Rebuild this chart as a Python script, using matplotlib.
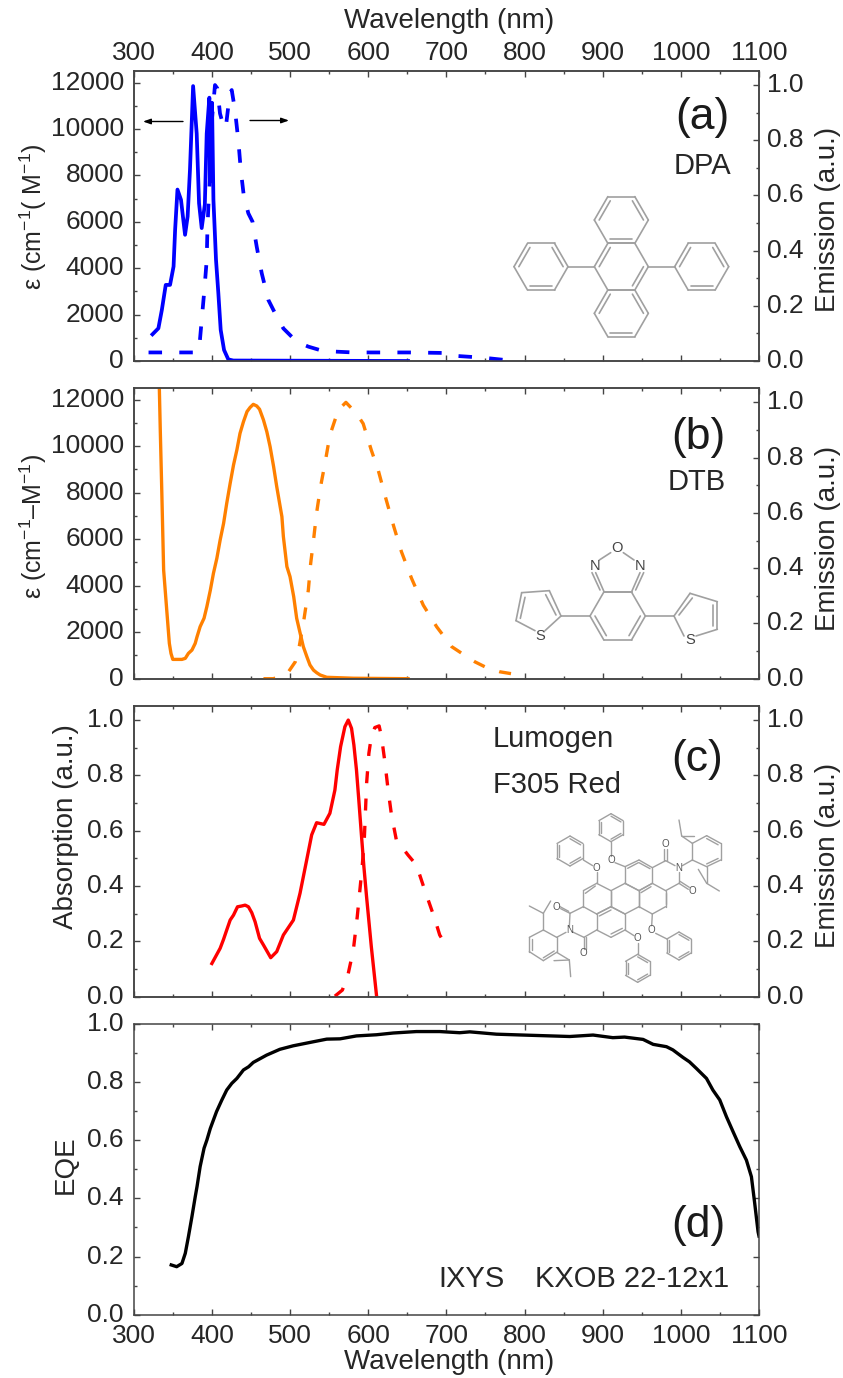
"""Absorption / emission spectra of DPA, DTB and Lumogen F305 Red, plus the EQE of the solar cell."""

import matplotlib
matplotlib.use("Agg")
import matplotlib.pyplot as plt
import matplotlib.transforms as mtrans
from matplotlib.collections import LineCollection
from matplotlib.ticker import MultipleLocator

plt.rcParams["font.family"] = ["Liberation Sans", "DejaVu Sans"]
plt.rcParams["mathtext.fontset"] = "custom"
plt.rcParams["mathtext.rm"] = "Liberation Sans"
plt.rcParams["mathtext.default"] = "regular"

W, H = 843, 1378
TXT = "#262626"
AX_C = "#444444"
MOL_C = "#a0a0a0"

# (a) DPA
dpa_abs_x = [324, 331.6, 336, 341, 346.5, 351, 353, 356, 360.5, 365.7, 369, 372, 376, 380.6, 383.6, 387, 391,
             393.4, 396.8, 397.7, 400.2, 402, 405.3, 408.3, 411.3, 415.6, 421, 427.5, 651]
dpa_abs_y = [1150, 1410, 2200, 3280, 3280, 4075, 5660, 7390, 6950, 5440, 6230, 8250, 11850, 9800, 6800, 5730, 6740,
             9800, 11350, 7750, 11130, 6950, 4360, 2920, 1340, 475, 70, 20, 0]
dpa_em_x = [319, 381, 384, 387, 390.4, 393.4, 394.2, 395.5, 397.7, 398.5, 404, 407, 410.4, 415.6, 418, 423, 425.4,
            429.6, 434, 437, 441, 446.7, 452, 457.4, 463.8, 472.3, 483, 491.5, 508.5, 523.5, 542.6, 581, 653,
            700, 715, 747, 781, 790]
dpa_em_y = [.031, .031, .052, .149, .257, .366, .463, .559, .668, .825, 1.0, .988, .897, .843, .85, .97, .982,
            .909, .795, .692, .595, .535, .505, .414, .318, .221, .161, .118, .07, .052, .036, .031, .031,
            .029, .018, .012, .002, 0]

# (b) DTB
dtb_abs_x = [332.8, 334, 336, 338.3, 342.6, 345.6, 347.7, 350, 353, 361.7, 366, 370, 374.5, 378.7, 381, 385, 390,
             393.6, 398, 402, 406.4, 410.6, 415, 419, 423.4, 427.7, 432, 436, 440.4, 445, 449, 453, 457.4, 461,
             466, 470.3, 474.5, 479, 483, 489.6, 491.5, 496, 500, 504.7, 508.5, 513, 517, 521.5, 525.5, 530, 534,
             538.5, 547, 581, 651]
dtb_abs_y = [12490, 10700, 7970, 4675, 2810, 1520, 1090, 830, 830, 830, 875, 1090, 1230, 1520, 1800, 2240, 2600,
             3100, 3800, 4530, 5180, 5965, 6680, 7540, 8400, 9190, 9840, 10550, 11050, 11490, 11670, 11800, 11730,
             11590, 11130, 10625, 9980, 9120, 8260, 6970, 6110, 4820, 4390, 3530, 2600, 1950, 1380, 950, 590, 370,
             260, 160, 60, 20, 0]
dtb_em_x = [466, 479, 498, 506.7, 512, 518, 523.4, 526.4, 530, 534, 539, 544.7, 551, 561.7, 571.5, 585, 593.6,
            604, 612.8, 622.6, 632.8, 642.6, 655.5, 670.5, 687.6, 706.8, 719.6, 736.6, 749.4, 768.5, 783.4]
dtb_em_y = [0, 0, .025, .061, .12, .218, .32, .417, .5, .6, .694, .779, .881, .972, 1.0, .96, .923,
            .827, .755, .652, .55, .459, .363, .266, .188, .116, .092, .061, .043, .025, .018]

# (c) Lumogen F305 Red
lum_abs_x = [400, 410.6, 414.9, 419, 423.4, 427.7, 432.8, 438.3, 442.6, 446.8, 451, 455.3, 461, 466, 475.3, 483,
             491.5, 504.3, 512.8, 521.3, 527.7, 534, 543.4, 551, 557.4, 560.4, 564.7, 570.2, 574.5, 578.7, 581.7,
             585, 588, 591.5, 594.5, 597.9, 604, 610.6]
lum_abs_y = [.12, .175, .207, .241, .277, .295, .325, .328, .331, .325, .304, .271, .211, .187, .141, .163,
             .223, .277, .374, .494, .585, .629, .623, .663, .747, .82, .904, .976, 1.0, .97, .91,
             .82, .711, .579, .47, .362, .181, .006]
lum_em_x = [557.4, 567, 574.5, 581, 586, 589.4, 592.3, 595, 598, 600.9, 604, 608.5, 614, 617, 621.3, 625.5, 629.8,
            636, 651, 661.7, 672.3, 685, 691.5, 698.7]
lum_em_y = [.002, .024, .084, .169, .289, .386, .47, .567, .772, .88, .94, .973, .979, .94, .85, .747, .657,
            .567, .512, .476, .386, .283, .223, .19]

# (d) KXOB 22-12x1
eqe_x = [348, 355, 361.7, 366, 370, 374.5, 376.6, 378.7, 381, 385, 390, 393.6, 398, 402, 406, 412.8, 419, 425.5,
         432, 440.4, 447, 453, 470, 487, 504, 530, 547, 564, 585, 610.6, 632, 661.7, 691.5, 717, 730, 764, 798,
         857.9, 887.7, 913, 928, 951.7, 964.6, 981.6, 989.8, 1002.8, 1011, 1020, 1032.8, 1041, 1049.8, 1058.4,
         1066.8, 1075.5, 1083.9, 1090.3, 1094.5, 1098.8, 1100]
eqe_y = [.171, .165, .176, .211, .268, .337, .371, .405, .44, .509, .572, .6, .64, .669, .698, .738, .772, .795,
         .812, .841, .852, .867, .892, .912, .924, .938, .947, .948, .958, .962, .968, .973, .973, .969, .972, .964,
         .961, .956, .961, .952, .954, .946, .929, .921, .91, .884, .869, .846, .812, .772, .738, .68, .629, .577,
         .531, .474, .383, .285, .27]

x_ticks = list(range(300, 1101, 100))
eps_ticks = [0, 2000, 4000, 6000, 8000, 10000, 12000]
frac_ticks = [0.0, 0.2, 0.4, 0.6, 0.8, 1.0]

DASH = (0, (3.6, 4.6))
LW = 2.4


def make_axes(fig, top, bottom):
    left, right = 133.7, 759
    return fig.add_axes([left / W, 1 - bottom / H, (right - left) / W, (bottom - top) / H])


def style(ax, minor):
    ax.yaxis.set_minor_locator(MultipleLocator(minor))
    for s in ax.spines.values():
        s.set_color(AX_C)
        s.set_linewidth(1.1)


def setup_panel(ax, ax2, ylim_l, yticks, minor, top_labels=False, bottom_labels=False):
    ax.set_xlim(300, 1100)
    ax.set_ylim(*ylim_l)
    ax.set_xticks(x_ticks)
    ax.set_yticks(yticks)
    ax.xaxis.set_minor_locator(MultipleLocator(50))
    style(ax, minor)
    ax.tick_params(which="major", direction="in", length=4.5, width=1, color=AX_C, top=True, bottom=True,
                   labeltop=top_labels, labelbottom=bottom_labels, labelsize=19, labelcolor=TXT, pad=6.5)
    ax.tick_params(which="minor", direction="in", length=2.3, width=1, color=AX_C, top=True, bottom=True)
    ax.tick_params(axis="y", which="major", pad=7)
    if top_labels:
        ax.tick_params(axis="x", which="major", pad=4)
    if ax2 is None:
        ax.tick_params(axis="y", which="both", right=True)
        return
    ax2.set_ylim(0, 1.052)
    ax2.set_yticks(frac_ticks)
    style(ax2, 0.1)
    ax2.tick_params(which="major", direction="in", length=4.5, width=1, color=AX_C,
                    labelsize=19, labelcolor=TXT, pad=6)
    ax2.tick_params(which="minor", direction="in", length=2.3, width=1, color=AX_C)


def segs(pts, ox, oy, s=3.0):
    """zoom-crop coordinates to figure pixels"""
    return [[(ox + a / s, oy + b / s), (ox + c / s, oy + d / s)] for a, b, c, d in pts]


def ring(cx, cy, r, pointy_top=False):
    # hexagon corners as (x, y), clockwise
    if pointy_top:
        v = [(0, -1), (.866, -.5), (.866, .5), (0, 1), (-.866, .5), (-.866, -.5)]
    else:
        v = [(-1, 0), (-.5, -.866), (.5, -.866), (1, 0), (.5, .866), (-.5, .866)]
    return [(cx + a * r, cy + b * r) for a, b in v]


def poly_bonds(v, doubles=(), inner=0.18):
    # closed polygon, with a shorter inner line on the edges listed in doubles
    out = []
    n = len(v)
    cx = sum(p[0] for p in v) / n
    cy = sum(p[1] for p in v) / n
    for i in range(n):
        a, b = v[i], v[(i + 1) % n]
        out.append((a[0], a[1], b[0], b[1]))
        if i in doubles:
            pa = (a[0] + (cx - a[0]) * inner, a[1] + (cy - a[1]) * inner)
            pb = (b[0] + (cx - b[0]) * inner, b[1] + (cy - b[1]) * inner)
            out.append((pa[0], pa[1], pb[0], pb[1]))
    return out


def draw_segments(ov, seg, lw=1.2):
    ov.add_collection(LineCollection(seg, colors=MOL_C, linewidths=lw, capstyle="round"))


def mol_dpa(ov):
    bonds = []
    d = (0, 2, 4)
    for c in [(544, 660), (544, 940)]:
        bonds += poly_bonds(ring(c[0], c[1], 81), d)
    bonds += poly_bonds(ring(544, 800, 81), (0, 3))
    for c in [(303, 800), (785, 800)]:
        bonds += poly_bonds(ring(c[0], c[1], 81), d)
    bonds += [(384, 800, 463, 800), (625, 800, 704, 800)]
    draw_segments(ov, segs(bonds, 440, 0))


def mol_dtb(ov):
    bonds = poly_bonds(ring(413, 648, 83), (3, 5))
    bonds += [(372, 575, 455, 575)]
    bonds += [(372, 575, 347, 518), (360, 570, 336, 518), (455, 575, 480, 518), (467, 570, 491, 518),
              (358, 480, 392, 458), (462, 480, 430, 458)]
    bonds += [(330, 648, 243, 648), (497, 648, 582, 648)]
    bonds += [(243, 648, 208, 572), (228, 645, 197, 584), (208, 572, 125, 578), (125, 578, 108, 662),
              (135, 592, 121, 655), (108, 662, 165, 692), (195, 692, 243, 648)]
    bonds += [(582, 648, 630, 580), (597, 645, 637, 594), (630, 580, 712, 605), (712, 605, 712, 688),
              (700, 615, 700, 678), (712, 688, 648, 708), (612, 708, 582, 648)]
    draw_segments(ov, segs(bonds, 480, 400))
    for t, x, y in [("O", 410, 445), ("N", 345, 497), ("N", 480, 497), ("S", 180, 708), ("S", 630, 720)]:
        ov.text(480 + x / 3, 400 + y / 3, t, fontsize=10.5, color="#444444", ha="center", va="center")


def mol_lumogen(ov):
    bonds = []
    for v in [[(350, 490), (393, 512), (393, 560), (350, 582), (310, 560), (310, 512)],
              [(435, 440), (477, 420), (517, 443), (517, 490), (477, 512), (435, 490)],
              [(393, 512), (435, 490), (477, 512), (477, 560), (435, 582), (393, 560)],
              [(517, 490), (557, 512), (557, 560), (517, 582), (477, 560), (477, 512)],
              [(350, 582), (393, 560), (435, 582), (435, 630), (393, 652), (350, 630)]]:
        bonds += poly_bonds(v)
    # a few double bonds in the core
    bonds += [(443, 445, 475, 428), (477, 428, 510, 446), (557, 520, 557, 552), (358, 588, 393, 570),
              (393, 642, 427, 625), (316, 520, 346, 498), (483, 518, 513, 500)]
    # imide rings with carbonyls
    bonds += [(310, 560, 270, 580), (270, 580, 268, 620), (278, 636, 312, 652), (312, 652, 350, 630),
              (270, 580, 242, 566), (266, 574, 240, 560), (312, 652, 312, 688), (319, 652, 319, 688),
              (517, 443, 557, 422), (557, 422, 585, 437), (597, 455, 597, 490), (597, 490, 557, 512),
              (597, 490, 625, 508), (600, 484, 628, 502), (553, 422, 553, 387), (560, 422, 560, 387)]
    # phenoxy groups
    for cx, cy, r in [(393, 323, 42), (270, 393, 45), (473, 745, 42), (597, 678, 42)]:
        bonds += poly_bonds(ring(cx, cy, r, pointy_top=True), (0, 2, 4))
    bonds += [(393, 365, 393, 408), (405, 428, 435, 440), (310, 420, 338, 437), (350, 457, 350, 490),
              (435, 630, 462, 647), (473, 668, 473, 703), (517, 582, 515, 617), (527, 640, 561, 657)]
    # aryl groups on the imide nitrogens
    right = [(637, 370), (680, 347), (722, 370), (722, 420), (680, 440), (637, 420)]
    left = [(190, 630), (148, 652), (148, 695), (190, 722), (230, 697), (230, 652)]
    bonds += poly_bonds(right, (1, 3)) + poly_bonds(left, (1, 3))
    bonds += [(607, 437, 637, 420), (258, 637, 230, 652),
              (637, 370, 605, 348), (605, 348, 597, 300), (605, 348, 643, 348),
              (680, 440, 680, 490), (655, 448, 680, 490), (680, 490, 718, 513),
              (190, 630, 190, 580), (190, 580, 148, 558), (190, 580, 212, 543),
              (230, 697, 268, 720), (268, 720, 272, 770), (268, 720, 222, 722)]
    draw_segments(ov, segs(bonds, 480, 720), lw=1.0)
    atoms = [("O", 393, 420), ("O", 350, 443), ("O", 473, 655), ("O", 515, 630), ("O", 555, 372), ("O", 637, 513),
             ("O", 228, 560), ("O", 310, 700), ("N", 597, 443), ("N", 268, 630)]
    for t, x, y in atoms:
        ov.text(480 + x / 3, 720 + y / 3, t, fontsize=7, color="#555555", ha="center", va="center")


def main():
    fig = plt.figure(figsize=(W / 100, H / 100), dpi=100)

    # (a)
    ax_a = make_axes(fig, 70.7, 361)
    ax_a2 = ax_a.twinx()
    setup_panel(ax_a, ax_a2, (0, 12513), eps_ticks, 1000, top_labels=True)
    ax_a.plot(dpa_abs_x, dpa_abs_y, color="#0000ff", lw=2.7)
    ax_a2.plot(dpa_em_x, dpa_em_y, color="#0000ff", lw=2.7, ls=DASH)

    # (b)
    ax_b = make_axes(fig, 388, 678.7)
    ax_b2 = ax_b.twinx()
    setup_panel(ax_b, ax_b2, (0, 12503), eps_ticks, 1000)
    ax_b.plot(dtb_abs_x, dtb_abs_y, color="#ff8000", lw=LW)
    ax_b2.plot(dtb_em_x, dtb_em_y, color="#ff8000", lw=LW, ls=DASH)

    # (c)
    ax_c = make_axes(fig, 705.7, 996.7)
    ax_c2 = ax_c.twinx()
    setup_panel(ax_c, ax_c2, (0, 1.052), frac_ticks, 0.1)
    ax_c.plot(lum_abs_x, lum_abs_y, color="#ff0000", lw=LW)
    ax_c2.plot(lum_em_x, lum_em_y, color="#ff0000", lw=LW, ls=DASH)

    # (d)
    ax_d = make_axes(fig, 1023.7, 1314.7)
    setup_panel(ax_d, None, (0, 1.0), frac_ticks, 0.1, bottom_labels=True)
    ax_d.plot(eqe_x, eqe_y, color="#000000", lw=LW)

    # y tick labels sit a little above their ticks in the original
    fig.canvas.draw()
    off = mtrans.ScaledTranslation(0, 2.5 / 100, fig.dpi_scale_trans)
    for ax in (ax_a, ax_a2, ax_b, ax_b2, ax_c, ax_c2, ax_d):
        for tick in ax.yaxis.get_major_ticks():
            tick.label1.set_transform(tick.label1.get_transform() + off)
            tick.label2.set_transform(tick.label2.get_transform() + off)

    # text and the structures go on a full-figure overlay in pixel coordinates
    ov = fig.add_axes([0, 0, 1, 1], zorder=10)
    ov.set_xlim(0, W)
    ov.set_ylim(H, 0)
    ov.axis("off")

    lab = dict(fontsize=20, color=TXT, ha="center", va="center")
    ov.text(449, 20.5, "Wavelength (nm)", **lab)
    ov.text(449, 1362, "Wavelength (nm)", **lab)
    eps = dict(lab, fontsize=18)
    ov.text(33, 217, "ε (cm$^{-1}$( M$^{-1}$)", rotation=90, **eps)
    ov.text(33, 526, "ε (cm$^{-1}$–M$^{-1}$)", rotation=90, **eps)
    ov.text(66, 827, "Absorption (a.u.)", rotation=90, **lab)
    ov.text(66, 1165, "EQE", rotation=90, **lab)
    for y in (219, 538, 855):
        ov.text(828, y, "Emission (a.u.)", rotation=90, **lab)

    big = dict(fontsize=32, color="#1a1a1a", ha="center", va="center")
    ov.text(702, 117, "(a)", **big)
    ov.text(698, 437, "(b)", **big)
    ov.text(697, 759, "(c)", **big)
    ov.text(698, 1225, "(d)", **big)

    name = dict(fontsize=21, color=TXT, va="center")
    ov.text(702, 166, "DPA", ha="center", **name)
    ov.text(697, 482, "DTB", ha="center", **name)
    ov.text(492.7, 739, "Lumogen", ha="left", **name)
    ov.text(492.7, 785, "F305 Red", ha="left", **name)
    ov.text(438, 1279, "IXYS", ha="left", **name)
    ov.text(535, 1279, "KXOB 22-12x1", ha="left", **name)

    arrow = dict(arrowstyle="-|>,head_length=0.45,head_width=0.16", color="black", lw=1.0, shrinkA=0, shrinkB=0)
    ov.annotate("", xy=(143, 121.5), xytext=(183, 121.5), arrowprops=arrow)
    ov.annotate("", xy=(289, 120.5), xytext=(250, 120.5), arrowprops=arrow)

    mol_dpa(ov)
    mol_dtb(ov)
    mol_lumogen(ov)

    fig.savefig("out.png", dpi=100)


if __name__ == "__main__":
    main()
